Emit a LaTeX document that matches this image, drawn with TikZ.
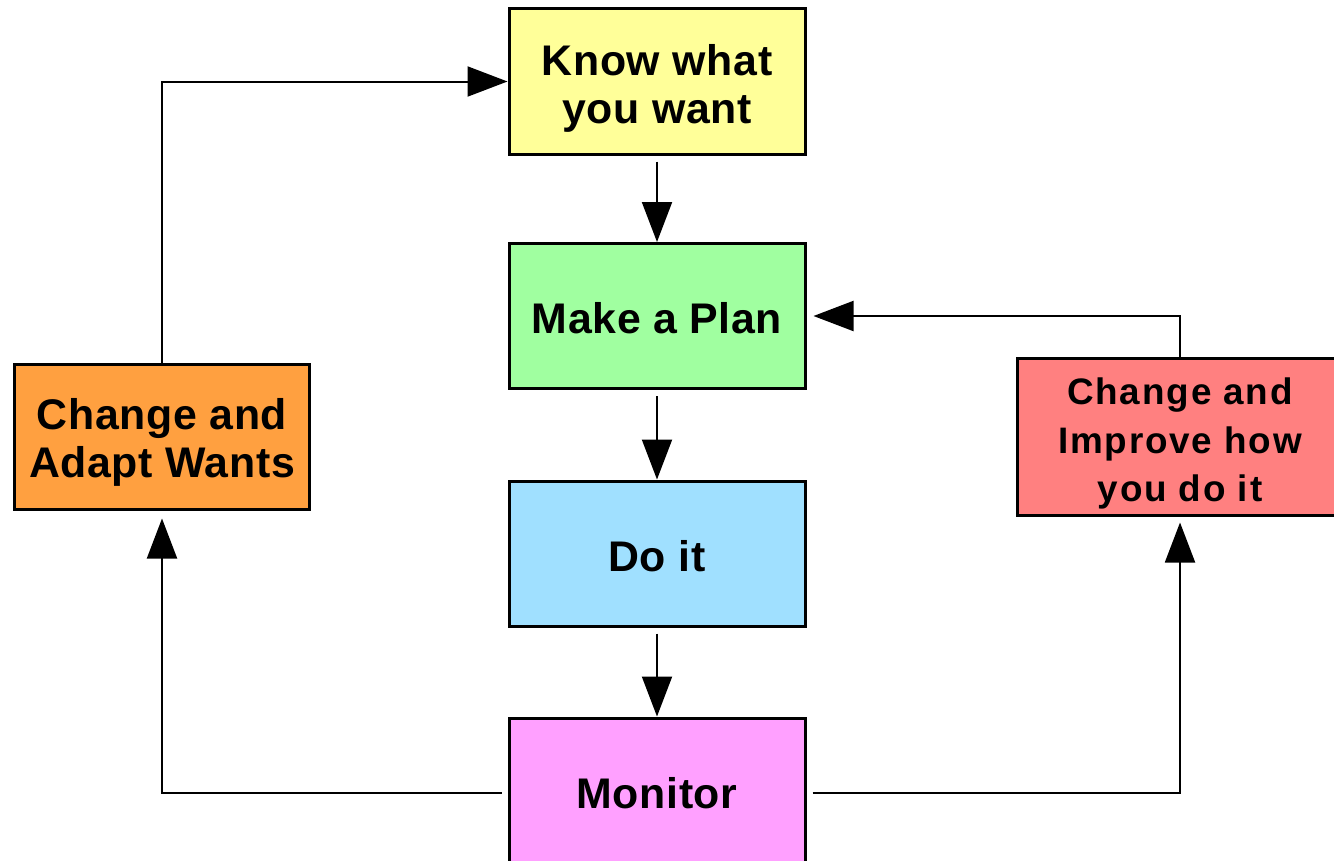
\documentclass[tikz,border=0pt]{standalone}
\usepackage{fontspec}
\setmainfont{Liberation Sans}
\usetikzlibrary{arrows.meta}
\definecolor{yellowc}{HTML}{FFFF99}
\definecolor{greenc}{HTML}{A0FFA0}
\definecolor{bluec}{HTML}{A0E0FF}
\definecolor{pinkc}{HTML}{FFA0FF}
\definecolor{orangec}{HTML}{FFA040}
\definecolor{redc}{HTML}{FF8080}
\begin{document}
\begin{tikzpicture}[x=1bp,y=-1bp,
  box/.style={draw=black, line width=3bp, minimum width=296bp, minimum height=145bp, inner sep=0pt},
  bigtext/.style={align=center, inner sep=0pt, font=\bfseries\fontsize{43}{48}\selectfont\addfontfeature{LetterSpace=1.5}},
  smalltext/.style={align=center, inner sep=0pt, font=\bfseries\fontsize{37}{49}\selectfont\addfontfeature{LetterSpace=5}},
  arr/.style={line width=2bp, -{Triangle[length=40bp,width=30bp]}}]
\clip (0,0) rectangle (1334,860);
\node[box, fill=yellowc, label={[bigtext, yshift=-7bp]center:Know what\\you want}] (know) at (657,81.5) {};
\node[box, fill=greenc, label={[bigtext, yshift=-2bp]center:Make a Plan}] (plan) at (657,316) {};
\node[box, fill=bluec, label={[bigtext, yshift=-3bp]center:Do it}] (doit) at (657,553.5) {};
\node[box, fill=pinkc, minimum height=150bp, label={[bigtext]center:Monitor}] (mon) at (657,793) {};
\node[box, fill=orangec, minimum width=295bp, label={[bigtext, yshift=-6bp]center:Change and\\Adapt Wants}] (adapt) at (162,436.5) {};
\node[box, fill=redc, minimum width=326bp, minimum height=157bp, label={[smalltext, yshift=-7bp]center:Change and\\Improve how\\you do it}] (imp) at (1180,436.5) {};
\draw[arr] ([yshift=-6bp]know.south) -- (plan.north);
\draw[arr] ([yshift=-6bp]plan.south) -- (doit.north);
\draw[arr] ([yshift=-6bp]doit.south) -- (mon.north);
\draw[arr] ([xshift=-6bp]mon.west) -| ([yshift=-8bp]adapt.south);
\draw[arr] (adapt.north) |- (know.west);
\draw[arr] ([xshift=6bp]mon.east) -| ([yshift=-6bp]imp.south);
\draw[arr] (imp.north) |- ([xshift=7bp]plan.east);
\end{tikzpicture}
\end{document}
